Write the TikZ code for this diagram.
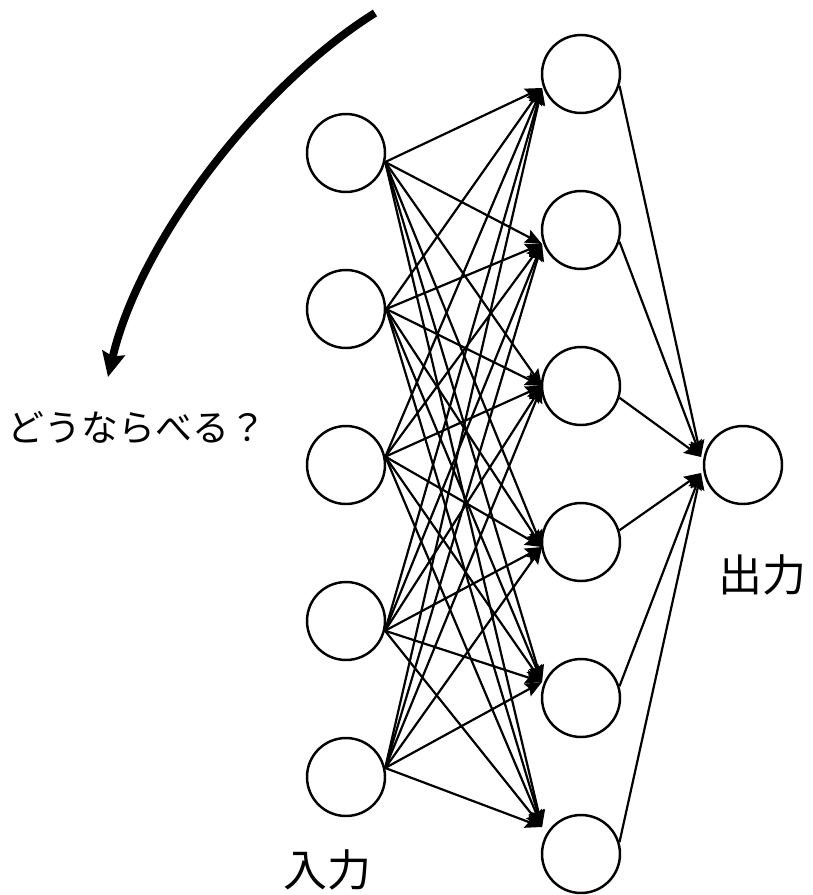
\documentclass[tikz,border=0pt]{standalone}
\usepackage{fontspec}
\newfontfamily\jpfont{Noto Sans CJK JP}
\usetikzlibrary{arrows.meta, calc}

\begin{document}
\begin{tikzpicture}[
    x=0.02cm, y=-0.02cm,
    >={Stealth[length=9.5pt, width=8pt, inset=1.5pt]},
    neuron/.style={circle, draw=black, line width=1.4pt, minimum size=1.56cm, inner sep=0pt},
    link/.style={->, line width=1.25pt, black},
    bigarrow/.style={-{Stealth[length=14pt, width=13pt, inset=2pt]}, line width=4.5pt},
    kana/.style={font=\jpfont\fontsize{21}{25}\selectfont},
    kanji/.style={font=\jpfont\fontsize{25}{29}\selectfont}
]
    \useasboundingbox (0,0) rectangle (812,895);

    \def\dy{156}

    % input layer
    \foreach \i/\a in {1/-13, 2/0, 3/12, 4/-14, 5/13} {
        \node[neuron] (in\i) at (346, {153+\dy*(\i-1)}) {};
        \coordinate (in\i-o) at (in\i.\a);
    }

    % hidden layer
    \foreach \j/\s in {1/14, 2/14, 3/0, 4/5, 5/-16, 6/-27} {
        \node[neuron] (hid\j) at (581, {74+\dy*(\j-1)}) {};
        \coordinate (hid\j-i) at ($(hid\j)+(-39,\s)$);
    }

    % output
    \node[neuron] (out) at (743,465) {};
    \coordinate (out-a) at ($(out)+(-42,-8)$);
    \coordinate (out-b) at ($(out)+(-42,8)$);

    \foreach \i in {1,...,5}
        \foreach \j in {1,...,6}
            \draw[link] (in\i-o) -- (hid\j-i);

    \foreach \j in {1,2,3}
        \draw[link] (hid\j.-17) -- (out-a);
    \foreach \j in {4,5,6}
        \draw[link] (hid\j.17) -- (out-b);

    \coordinate (arc-s) at (375,13);
    \coordinate (arc-e) at (108,377);
    \draw[bigarrow] (arc-s) .. controls (260,85) and (140,240) .. (arc-e);

    \node[kana] (ask) at (137,428) {どうならべる？};
    \node[kanji] (inlabel) at (327,870) {入力};
    \node[kanji] (outlabel) at (762,575) {出力};

\end{tikzpicture}
\end{document}
